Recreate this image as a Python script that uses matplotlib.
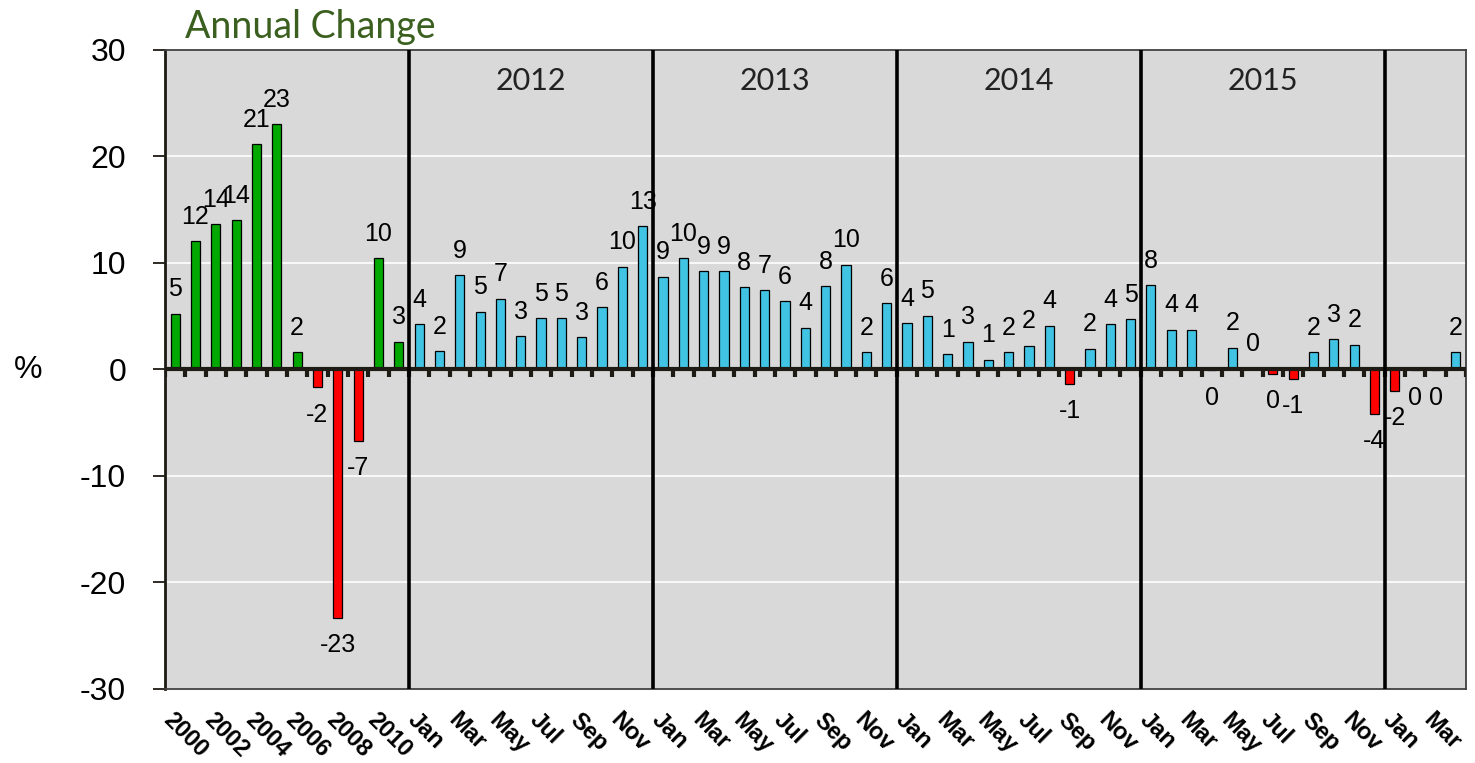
import matplotlib.pyplot as plt
import numpy as np

plt.rcParams["axes.unicode_minus"] = False

# annual change 2000-2011, then monthly (year on year) from Jan 2012
years = [str(y) for y in range(2000, 2012)]
annual_vals = [5.2, 12.0, 13.6, 14.0, 21.1, 23.0, 1.6, -1.7, -23.3, -6.7, 10.4, 2.6]

months = ["Jan", "Feb", "Mar", "Apr", "May", "Jun",
          "Jul", "Aug", "Sep", "Oct", "Nov", "Dec"]
vals_2012 = [4.2, 1.7, 8.8, 5.4, 6.6, 3.1, 4.8, 4.8, 3.0, 5.8, 9.6, 13.4]
vals_2013 = [8.7, 10.4, 9.2, 9.2, 7.7, 7.4, 6.4, 3.9, 7.8, 9.8, 1.6, 6.2]
vals_2014 = [4.3, 5.0, 1.4, 2.6, 0.9, 1.6, 2.2, 4.1, -1.4, 1.9, 4.2, 4.7]
vals_2015 = [7.9, 3.7, 3.7, -0.1, 2.0, 0.1, -0.4, -0.9, 1.6, 2.8, 2.3, -4.2]
vals_2016 = [-2.0, -0.1, -0.1, 1.6]
section_years = ["2012", "2013", "2014", "2015"]

monthly_vals = vals_2012 + vals_2013 + vals_2014 + vals_2015 + vals_2016
n_months = len(monthly_vals)
values = annual_vals + monthly_vals
cats = years + [months[i % 12] for i in range(n_months)]
x = np.arange(len(values))

GREEN, RED, BLUE = "#00A800", "#FF0000", "#41C3E3"
colors = [GREEN if v >= 0 else RED for v in annual_vals] + \
         [BLUE if v >= 0 else RED for v in monthly_vals]

fig = plt.figure(figsize=(14.75, 7.63), dpi=100)
ax = fig.add_axes([165 / 1475, 1 - 689 / 763, 1301 / 1475, 639.5 / 763])
ax.set_facecolor("#D9D9D9")

ax.bar(x, values, width=0.45, color=colors, edgecolor="black", linewidth=0.9, zorder=3)

ax.set_xlim(-0.5, len(values) - 0.5)
ax.set_ylim(-30, 30)
ax.set_yticks(range(-30, 31, 10))
ax.yaxis.grid(True, color="white", linewidth=1.2, zorder=0)
ax.set_axisbelow(True)

# zero line with little tick marks between the categories
ax.axhline(0, color="#1E1A14", linewidth=3, zorder=4)
bounds = np.arange(len(values) + 1) - 0.5
ax.vlines(bounds, -0.7, 0, color="#1E1A14", linewidth=3, zorder=4)

# separators between the periods
breaks = [len(years) - 0.5 + 12 * k for k in range(5)]
for b in breaks:
    ax.axvline(b, color="black", linewidth=2.6, zorder=5)
for k, yr in enumerate(section_years):
    ax.text((breaks[k] + breaks[k + 1]) / 2, 0.95, yr,
            transform=ax.get_xaxis_transform(), ha="center", va="center",
            fontsize=22, family="Lato", color="#222222")

# value labels
for xi, v in zip(x, values):
    lab = str(int(round(v)))
    if v >= 0:
        ax.annotate(lab, (xi, v), xytext=(0, 9), textcoords="offset points",
                    ha="center", va="bottom", fontsize=18, family="Liberation Sans", zorder=6)
    else:
        ax.annotate(lab, (xi, v), xytext=(0, -11), textcoords="offset points",
                    ha="center", va="top", fontsize=18, family="Liberation Sans", zorder=6)

# axes styling
for s in ["top", "right", "bottom"]:
    ax.spines[s].set_color("#404040")
    ax.spines[s].set_linewidth(1.3)
ax.spines["left"].set_color("#1E1A14")
ax.spines["left"].set_linewidth(2)
ax.tick_params(axis="y", direction="out", length=9, width=1.3, pad=19,
               labelsize=23, color="#1E1A14")
for t in ax.get_yticklabels():
    t.set_family("Liberation Sans")

ax.set_xticks(x[::2])
ax.set_xticklabels(cats[::2], rotation=-45, ha="left", va="top",
                   rotation_mode="anchor", fontsize=17, fontweight="bold",
                   family="Liberation Sans")
ax.tick_params(axis="x", length=0, pad=14)

fig.text(28 / 1475, 1 - 370 / 763, "%", fontsize=23, family="Liberation Sans",
         ha="center", va="center")
fig.text(185 / 1475, 1 - 38 / 763, "Annual Change", fontsize=27, family="Lato",
         color="#3A5F1E", ha="left", va="baseline")

fig.savefig("out.png", dpi=100)
